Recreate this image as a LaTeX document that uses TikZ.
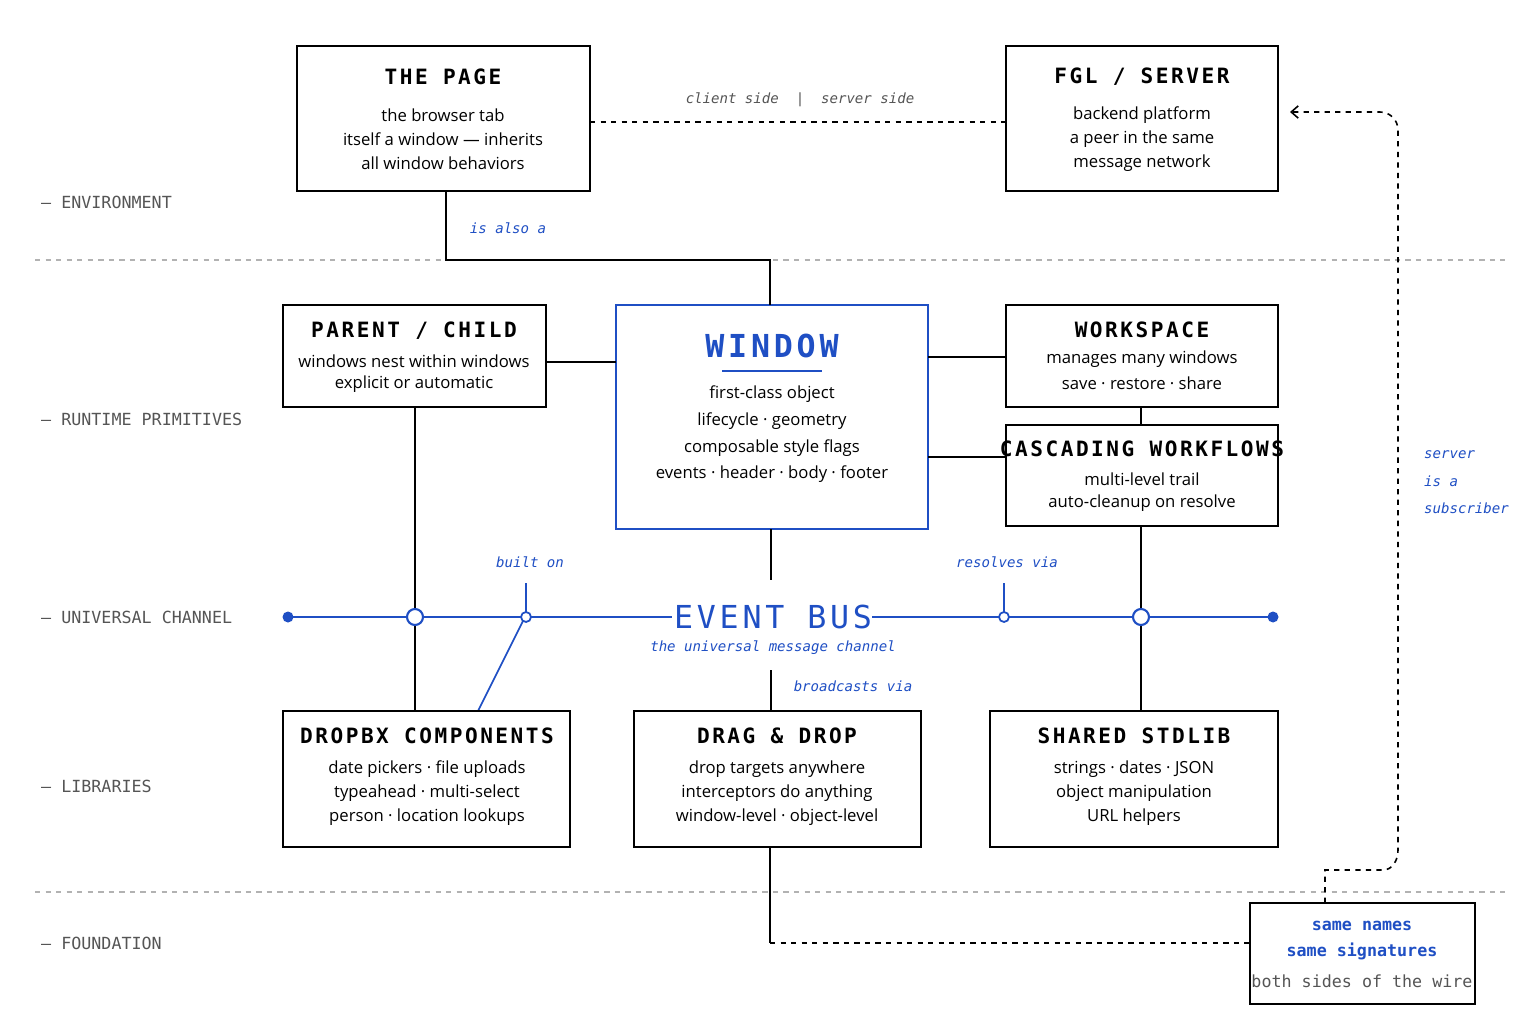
\documentclass[tikz,border=0pt]{standalone}
\usepackage{fontspec}
\setmainfont{Open Sans}
\newfontfamily\mono{DejaVu Sans Mono}
\usetikzlibrary{arrows.meta}
\definecolor{bl}{HTML}{1F4FC4}
\definecolor{gr}{HTML}{555555}
\tikzset{
 box/.style={draw=black,line width=1pt},
 ttl/.style={font=\mono\bfseries\fontsize{12}{12}\selectfont},
 body/.style={font=\fontsize{9.5}{10}\selectfont},
 lab/.style={font=\mono\itshape\fontsize{8}{8}\selectfont,text=bl},
 side/.style={font=\mono\fontsize{9.5}{10}\selectfont,text=gr,anchor=west},
 ln/.style={line width=0.9pt},
 bus/.style={line width=1.2pt,draw=bl},
 sep/.style={dashed,draw=gray!60,line width=0.6pt},
}
\newcommand{\myspc}[1]{\addfontfeature{LetterSpace=12}#1}
\begin{document}
\begin{tikzpicture}[x=0.02cm,y=-0.02cm]
\useasboundingbox[fill=white] (0,0) rectangle (1535,1024);
\draw[sep] (35,260)--(1505,260);
\draw[sep] (35,892)--(1505,892);
\node[side] (s1) at (35,202) {— ENVIRONMENT};
\node[side] (s2) at (35,419) {— RUNTIME PRIMITIVES};
\node[side] (s3) at (35,617) {— UNIVERSAL CHANNEL};
\node[side] (s4) at (35,786) {— LIBRARIES};
\node[side] (s5) at (35,943) {— FOUNDATION};
% boxes
\draw[box] (297,46) rectangle (590,191);
\node[ttl] (pt) at (443,77) {\myspc{THE PAGE}};
\node[body] (p1) at (443,115) {the browser tab};
\node[body] (p2) at (443,139) {itself a window — inherits};
\node[body] (p3) at (443,163) {all window behaviors};
\draw[box] (1006,46) rectangle (1278,191);
\node[ttl] (ft) at (1142,77) {\myspc{FGL / SERVER}};
\node[body] (f1) at (1142,115) {backend platform};
\node[body] (f2) at (1142,139) {a peer in the same};
\node[body] (f3) at (1142,163) {message network};
\coordinate (pr) at (590,122); \coordinate (fl) at (1006,122);
\draw[ln,dashed] (pr)--(fl);
\node[lab,text=gr] (cs) at (800,100) {client side \ | \ server side};
% window
\draw[box,draw=bl,line width=1.3pt] (616,305) rectangle (928,529);
\node[font=\mono\bfseries\fontsize{18}{18}\selectfont,text=bl] (wt) at (772,346) {\myspc{WINDOW}};
\draw[bl,line width=1pt] (722,371)--(822,371);
\node[body] (w1) at (772,394) {first-class object};
\node[body] (w2) at (772,421) {lifecycle · geometry};
\node[body] (w3) at (772,448) {composable style flags};
\node[body] (w4) at (772,474) {events · header · body · footer};
\coordinate (pb) at (446,191); \coordinate (wtop) at (770,305);
\draw[ln] (pb)--(446,260)--(770,260)--(wtop);
\node[lab] (isa) at (508,228) {is also a};
% parent
\draw[box] (283,305) rectangle (546,407);
\node[ttl] (pct) at (414,331) {\myspc{PARENT / CHILD}};
\node[body] (pc1) at (414,361) {windows nest within windows};
\node[body] (pc2) at (414,384) {explicit or automatic};
\draw[ln] (546,362)--(616,362);
\draw[box] (1006,305) rectangle (1278,407);
\node[ttl] (wst) at (1142,330) {\myspc{WORKSPACE}};
\node[body] (ws1) at (1142,359) {manages many windows};
\node[body] (ws2) at (1142,383) {save · restore · share};
\draw[ln] (928,357)--(1006,357);
\draw[box] (1006,425) rectangle (1278,526);
\node[ttl] (cwt) at (1142,449) {\myspc{CASCADING WORKFLOWS}};
\node[body] (cw1) at (1142,479) {multi-level trail};
\node[body] (cw2) at (1142,503) {auto-cleanup on resolve};
\draw[ln] (928,457)--(1006,457);
\draw[ln] (1141,407)--(1141,425);
% bus
\draw[bus] (288,617)--(672,617);
\draw[bus] (872,617)--(1273,617);
\fill[bl] (288,617) circle (5.5);
\fill[bl] (1273,617) circle (5.5);
\node[font=\mono\fontsize{18}{18}\selectfont,text=bl] (eb) at (773,617) {\myspc{EVENT BUS}};
\node[lab] (ebs) at (773,648) {the universal message channel};
\draw[ln] (415,407)--(415,609); \draw[ln] (415,625)--(415,711);
\draw[ln] (1141,526)--(1141,609); \draw[ln] (1141,625)--(1141,711);
\draw[bl,line width=1pt] (526,583)--(526,612);
\draw[bl,line width=1pt] (1004,583)--(1004,612);
\draw[bl,line width=1pt] (523,621)--(478,711);
\draw[bl,line width=1.2pt,fill=white] (415,617) circle (8);
\draw[bl,line width=1.2pt,fill=white] (1141,617) circle (8);
\draw[bl,line width=1pt,fill=white] (526,617) circle (5);
\draw[bl,line width=1pt,fill=white] (1004,617) circle (5);
\node[lab] (bo) at (530,562) {built on};
\node[lab] (rv) at (1007,562) {resolves via};
\draw[ln] (771,529)--(771,580);
\draw[ln] (771,670)--(771,711);
\node[lab] (bv) at (853,686) {broadcasts via};
% libraries
\draw[box] (283,711) rectangle (570,847);
\node[ttl] (dt) at (427,736) {\myspc{DROPBX COMPONENTS}};
\node[body] (d1) at (427,769) {date pickers · file uploads};
\node[body] (d2) at (427,793) {typeahead · multi-select};
\node[body] (d3) at (427,817) {person · location lookups};
\draw[box] (634,711) rectangle (921,847);
\node[ttl] (gt) at (777,736) {\myspc{DRAG \& DROP}};
\node[body] (g1) at (777,769) {drop targets anywhere};
\node[body] (g2) at (777,793) {interceptors do anything};
\node[body] (g3) at (777,817) {window-level · object-level};
\draw[box] (990,711) rectangle (1278,847);
\node[ttl] (st) at (1134,736) {\myspc{SHARED STDLIB}};
\node[body] (s1b) at (1134,769) {strings · dates · JSON};
\node[body] (s2b) at (1134,793) {object manipulation};
\node[body] (s3b) at (1134,817) {URL helpers};
% foundation
\draw[box] (1250,903) rectangle (1475,1004);
\node[font=\mono\bfseries\fontsize{9.5}{10}\selectfont,text=bl] (fn1) at (1362,926) {same names};
\node[font=\mono\bfseries\fontsize{9.5}{10}\selectfont,text=bl] (fn2) at (1362,951) {same signatures};
\node[font=\mono\fontsize{9.5}{10}\selectfont,text=gr] (fn3) at (1362,981) {both sides of the wire};
\draw[ln] (770,847)--(770,943);
\draw[ln,dashed] (770,943)--(1250,943);
\draw[ln,dashed,-{Straight Barb[length=4pt,width=7pt]}] (1325,903)--(1325,870)--(1383,870) to[out=0,in=-90] (1398,850)--(1398,130) to[out=90,in=0] (1380,112)--(1290,112);
\node[lab,anchor=west] (sv1) at (1418,455) {server};
\node[lab,anchor=west] (sv2) at (1418,481) {is a};
\node[lab,anchor=west] (sv3) at (1418,508) {subscriber};
\end{tikzpicture}
\end{document}
